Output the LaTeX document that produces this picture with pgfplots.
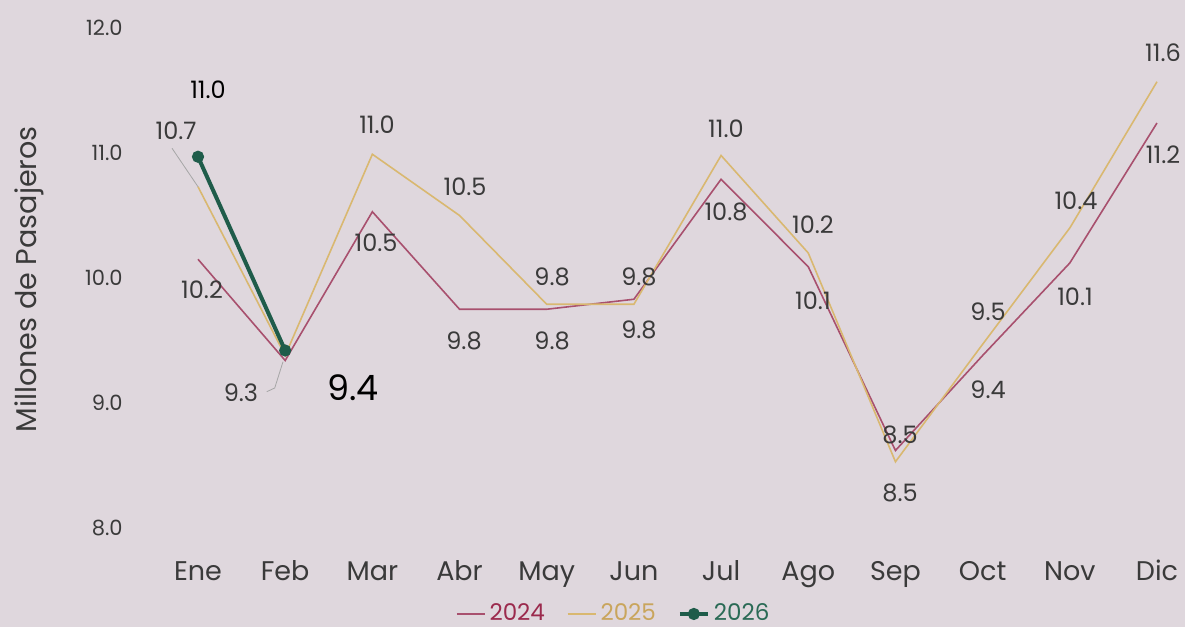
\documentclass[border=0pt]{standalone}
\usepackage{pgfplots}
\pgfplotsset{compat=1.18}
\usepackage{fontspec}
\setmainfont{Poppins}
\definecolor{bg}{HTML}{DFD7DD}
\definecolor{cA}{HTML}{A8506E}
\definecolor{cB}{HTML}{D9B870}
\definecolor{cC}{HTML}{1F5C4A}
\definecolor{tA}{HTML}{9B2A4D}
\definecolor{tB}{HTML}{C9A55C}
\definecolor{tC}{HTML}{2A6A55}
\definecolor{lbl}{HTML}{3A3A3A}
\begin{document}
\begin{tikzpicture}
\fill[bg] (0,0) rectangle (592.5pt,313.5pt);
\begin{axis}[
  at={(72.85pt,37pt)}, anchor=south west,
  x=43.59pt, y=62.5pt,
  xmin=-0.6, xmax=11.32, ymin=7.8, ymax=12.3,
  clip=false,
  axis line style={draw=none},
  major tick length=0pt,
  tick style={draw=none},
  xtick={0,...,11},
  xticklabels={Ene,Feb,Mar,Abr,May,Jun,Jul,Ago,Sep,Oct,Nov,Dic},
  xticklabel style={font=\fontsize{13.5}{15}\selectfont, text=lbl, text height=10pt, text depth=3pt, yshift=0pt},
  ytick={8,9,10,11,12},
  yticklabel style={font=\fontsize{10.5}{12}\selectfont, text=lbl, xshift=-8pt},
  /pgf/number format/assume math mode=true,
  /pgf/number format/.cd, fixed, fixed zerofill, precision=1,
  /pgfplots/.cd,
  legend style={at={(0.4513,-0.1084)}, anchor=center, draw=none, fill=none,
    font=\fontsize{11.5}{13}\selectfont, legend columns=3,
    /tikz/every even column/.append style={column sep=9pt},
    inner sep=0pt},
  legend image code/.code={\draw[#1] (0pt,0pt) -- (14pt,0pt);},
]
\addplot[cA, line width=0.8pt] coordinates {
 (0,10.15) (1,9.34) (2,10.53) (3,9.75) (4,9.75) (5,9.83) (6,10.79) (7,10.09) (8,8.62) (9,9.38) (10,10.12) (11,11.24)};
\addlegendentry{\textcolor{tA}{2024}}
\addplot[cB, line width=0.8pt] coordinates {
 (0,10.73) (1,9.38) (2,10.99) (3,10.50) (4,9.79) (5,9.79) (6,10.98) (7,10.20) (8,8.53) (9,9.47) (10,10.40) (11,11.57)};
\addlegendentry{\textcolor{tB}{2025}}
\addplot[cC, line width=2pt, mark=*, mark size=2pt, mark options={fill=cC, draw=cC},
  legend image code/.code={\draw[cC, line width=2pt] (0pt,0pt) -- (14pt,0pt); \fill[cC] (7pt,0pt) circle (2pt);}] coordinates {
 (0,10.97) (1,9.42)};
\addlegendentry{\textcolor{tC}{2026}}
% leader lines
\draw[gray!70, line width=0.4pt] (axis cs:-0.298,11.038) -- (axis cs:0,10.73);
\draw[gray!70, line width=0.4pt] (axis cs:0.788,9.09) -- (axis cs:0.88,9.12) -- (axis cs:0.975,9.33);
% data labels
\begin{scope}[every node/.style={font=\fontsize{12}{14}\selectfont, text=lbl, inner sep=0pt}]
\node[text=black] at (axis cs:0.115,11.504) {11.0};
\node at (axis cs:-0.252,11.176) {10.7};
\node at (axis cs:0.046,9.904) {10.2};
\node at (axis cs:0.493,9.08) {9.3};
\node[text=black, font=\fontsize{17.5}{20}\selectfont] at (axis cs:1.778,9.12) {9.4};
\node at (axis cs:2.053,11.224) {11.0};
\node at (axis cs:2.042,10.28) {10.5};
\node at (axis cs:3.063,10.728) {10.5};
\node at (axis cs:3.051,9.496) {9.8};
\node at (axis cs:4.061,10.008) {9.8};
\node at (axis cs:4.061,9.496) {9.8};
\node at (axis cs:5.058,10.008) {9.8};
\node at (axis cs:5.058,9.584) {9.8};
\node at (axis cs:6.056,11.192) {11.0};
\node at (axis cs:6.056,10.528) {10.8};
\node at (axis cs:7.054,10.424) {10.2};
\node at (axis cs:7.054,9.816) {10.1};
\node at (axis cs:8.052,8.744) {8.5};
\node at (axis cs:8.052,8.28) {8.5};
\node at (axis cs:9.062,9.728) {9.5};
\node at (axis cs:9.062,9.104) {9.4};
\node at (axis cs:10.071,10.616) {10.4};
\node at (axis cs:10.06,9.848) {10.1};
\node at (axis cs:11.069,11.80) {11.6};
\node at (axis cs:11.069,10.984) {11.2};
\end{scope}
\node[rotate=90, font=\fontsize{14.3}{16}\selectfont, text=lbl] at (axis cs:-1.94,9.99) {Millones de Pasajeros};
\end{axis}
\pgfresetboundingbox
\useasboundingbox (0,0) rectangle (592.5pt,313.5pt);
\end{tikzpicture}
\end{document}
